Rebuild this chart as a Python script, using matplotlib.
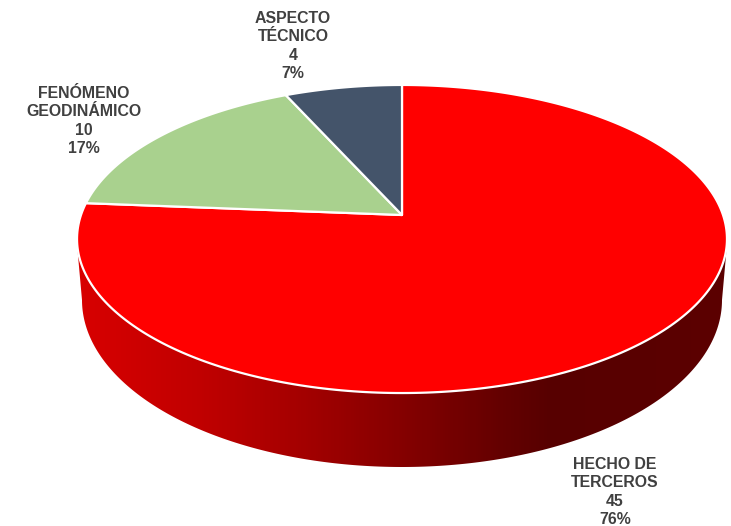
import matplotlib
matplotlib.use('Agg')
import matplotlib.pyplot as plt
from matplotlib.colors import LinearSegmentedColormap
from matplotlib.patches import Polygon
import numpy as np

categories = ['HECHO DE\nTERCEROS', 'FENÓMENO\nGEODINÁMICO', 'ASPECTO\nTÉCNICO']
values = [45, 10, 4]
colors = ['#ff0000', '#a9d18e', '#44546a']
label_pos = [(615, 492), (84, 121), (293, 46)]

# pie geometry in pixels, the top is a circle seen in perspective
cx = 402
cy = 215
rx = 321
ry = 150.3
persp = 0.1558


def top_point(angle):
    # angle in degrees, clockwise from 12 o'clock
    a = np.radians(angle)
    u = np.sin(a)
    v = np.cos(a)
    w = 1 + persp * v
    return cx + rx * u / w, cy - ry * v / w


plt.rcParams['font.family'] = ['Liberation Sans', 'DejaVu Sans']
fig = plt.figure(figsize=(7.31, 5.26), dpi=100)
ax = fig.add_axes([0, 0, 1, 1])

# side of the pie, gradient clipped to the outline
t = np.linspace(np.pi, 0, 200)
side_x = np.concatenate([[77.5], 402 + 320 * np.cos(t), [726.5]])
side_y = np.concatenate([[250], 300 + 167 * np.sin(t), [250]])
side = Polygon(np.column_stack([side_x, side_y]), closed=True, fc='none', ec='none')
ax.add_patch(side)
side_cmap = LinearSegmentedColormap.from_list('side', [
    (0.0, '#d80000'), (0.19, '#c00000'), (0.34, '#a50000'), (0.5, '#850000'),
    (0.65, '#650000'), (0.73, '#570000'), (1.0, '#5c0000')])
grad = np.linspace(0, 1, 650).reshape(1, -1)
im = ax.imshow(grad, cmap=side_cmap, extent=(77, 727, 470, 240), aspect='auto', zorder=1)
im.set_clip_path(side)

# top slices
total = sum(values)
start = 0
for val, col, cat, pos in zip(values, colors, categories, label_pos):
    end = start + val / total * 360
    angles = np.linspace(start, end, 300)
    px, py = top_point(angles)
    pts = np.column_stack([np.r_[cx, px], np.r_[cy, py]])
    ax.add_patch(Polygon(pts, closed=True, fc=col, ec='white', lw=1.6, joinstyle='round', zorder=2))
    ax.text(pos[0], pos[1], '%s\n%d\n%d%%' % (cat, val, round(val / total * 100)),
            ha='center', va='center', fontsize=11.4, fontweight='bold', color='#404040',
            linespacing=1.27, zorder=3)
    start = end

ax.set_xlim(0, 731)
ax.set_ylim(526, 0)
ax.axis('off')
fig.savefig('out.png', dpi=100)
